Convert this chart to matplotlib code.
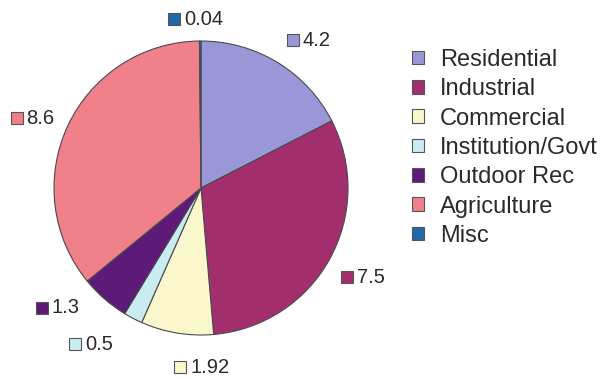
import matplotlib
matplotlib.use("Agg")
import matplotlib.pyplot as plt
from matplotlib.patches import Patch
import numpy as np

plt.rcParams['font.family'] = ['Liberation Sans', 'DejaVu Sans']

categories = ["Residential", "Industrial", "Commercial", "Institution/Govt",
              "Outdoor Rec", "Agriculture", "Misc"]
values = [4.2, 7.5, 1.92, 0.5, 1.3, 8.6, 0.04]
value_labels = ["4.2", "7.5", "1.92", "0.5", "1.3", "8.6", "0.04"]
colors = ["#9a97d8", "#a32e6e", "#f9f7cb", "#c9ecf2", "#5e1a78", "#f0808a", "#1f69a8"]

# label placement (style): radial distance and angle offset (deg)
label_dist = [1.245, 1.26, 1.22, 1.30, 1.27, 1.24, 1.15]
label_dang = [-4.7, 0.1, 9.7, -7.5, -9.2, 2.5, 1.4]

W, H = 600, 379
cx, cy, R = 201, 188, 147
fig = plt.figure(figsize=(W/100, H/100), dpi=100)
ax = fig.add_axes([0, 0, 1, 1])
wedges, _ = ax.pie(values, colors=colors, startangle=90, counterclock=False,
                   radius=1.0, wedgeprops=dict(edgecolor="#4a4a4a", linewidth=0.8))
ax.set_xlim(-cx/R, (W-cx)/R)
ax.set_ylim(-(H-cy)/R, cy/R)
ax.set_aspect('auto')
ax.axis('off')

fig.canvas.draw()
renderer = fig.canvas.get_renderer()
sq = 12.0   # square size px
gap = 4.0
for w, lab, col, d, da in zip(wedges, value_labels, colors, label_dist, label_dang):
    mid = np.deg2rad((w.theta1 + w.theta2) / 2 + da)
    gx, gy = d*np.cos(mid), d*np.sin(mid)
    t = ax.text(0, gy, lab, fontsize=14.5, color="#2a2a2a", va='center', ha='left')
    tw = t.get_window_extent(renderer).width
    gw = sq + gap + tw
    left = gx - gw/2/R
    t.set_x(left + (sq + gap)/R)
    ax.plot([left + sq/2/R], [gy], marker='s', markersize=sq*0.72, color=col,
            markeredgecolor="#555555", markeredgewidth=0.8, clip_on=False)

handles = [Patch(facecolor=c, edgecolor="#555555", linewidth=0.8) for c in colors]
fig.legend(handles, categories, loc='upper left', bbox_to_anchor=(412/W, 1-49/H),
           frameon=False, fontsize=17, handlelength=0.51, handleheight=0.51,
           handletextpad=0.68, labelspacing=0.31, borderaxespad=0, borderpad=0,
           labelcolor="#2a2a2a")

fig.savefig("out.png", dpi=100)
